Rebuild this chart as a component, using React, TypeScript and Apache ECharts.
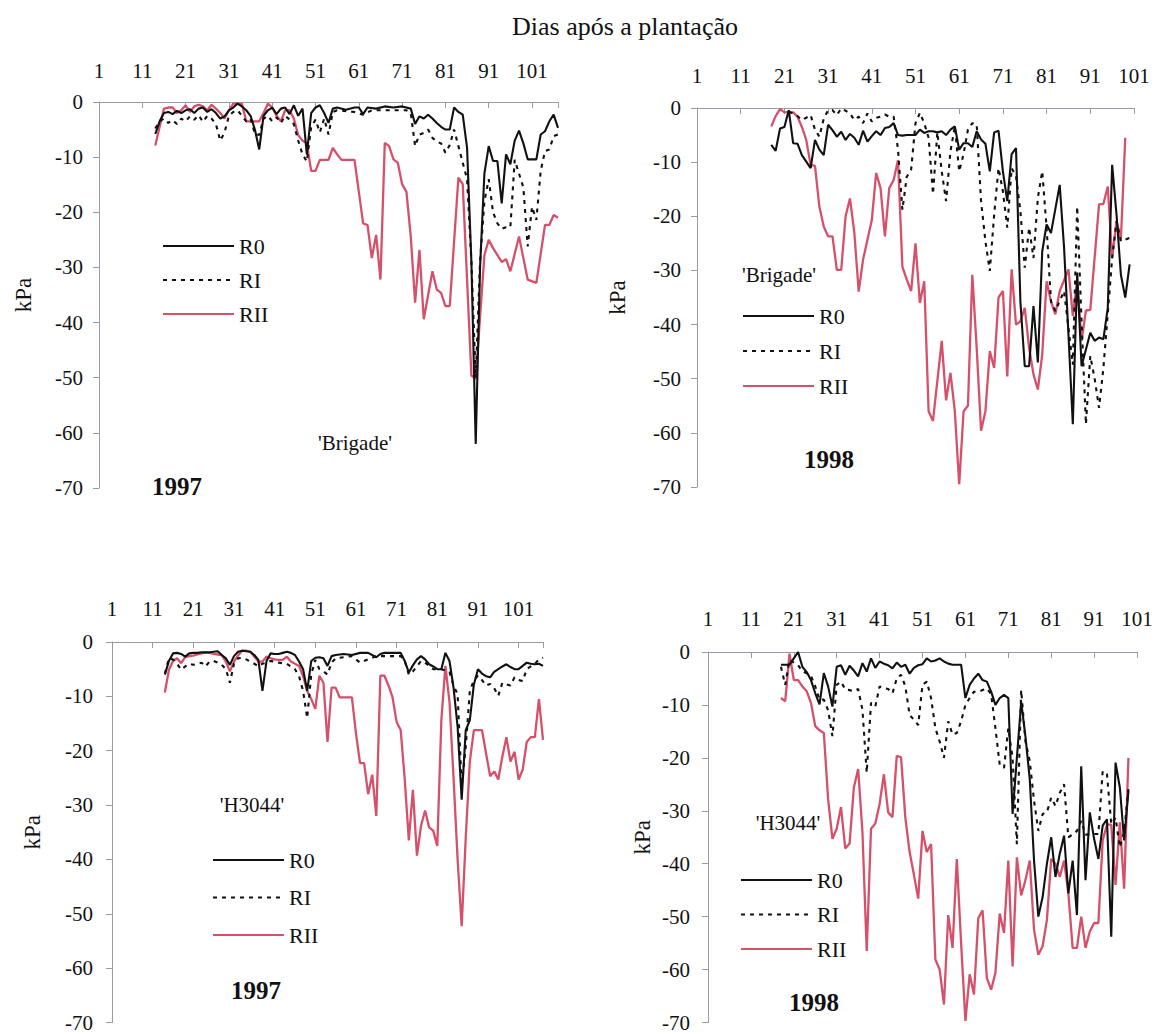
import React, { useEffect, useRef } from 'react';
import * as echarts from 'echarts';

const FONT = 'Liberation Serif';
const TITLE = 'Dias após a plantação';
const SERIES_NAMES = ['R0', 'RI', 'RII'];
const Y_MIN = -70;
const Y_MAX = 0;
const Y_STEP = 10;
const X_MIN = 1;
const X_STEP = 10;
const X_MAX_1997 = 107;
const X_MAX_1998 = 101;
const CULTIVARS = ["'Brigade'", "'Brigade'", "'H3044'", "'H3044'"];
const YEARS = ['1997', '1998', '1997', '1998'];

// 'Brigade' 1997
const b97R0 = [[14,-5.8],[15,-3.5],[16,-2.0],[17,-1.8],[18,-2.2],[19,-1.6],[20,-2.0],[21,-1.5],[22,-1.3],[23,-2.0],[24,-1.2],[25,-1.0],[26,-1.8],[27,-1.3],[28,-2.0],[29,-3.0],[30,-2.6],[31,-1.5],[32,-1.0],[33,-0.3],[34,-0.8],[35,-1.5],[36,-2.5],[37,-5.0],[38,-8.6],[39,-2.5],[40,-1.5],[41,-1.0],[42,-2.2],[43,-1.2],[44,-1.0],[45,-2.2],[46,-0.6],[47,-2.5],[48,-1.2],[49,-9.5],[50,-2.0],[51,-1.0],[52,-0.6],[53,-2.0],[54,-3.8],[55,-1.2],[56,-1.0],[58,-1.4],[60,-1.0],[61,-1.0],[62,-2.2],[63,-1.0],[65,-1.2],[67,-0.8],[69,-1.0],[71,-0.8],[73,-1.2],[74,-4.0],[75,-2.6],[76,-3.0],[77,-2.3],[78,-3.0],[79,-3.8],[80,-4.5],[81,-5.0],[82,-5.0],[83,-1.0],[84,-1.8],[85,-2.3],[86,-8.3],[87,-29],[88,-62],[89,-30],[90,-13],[91,-8.0],[92,-10.7],[93,-10.7],[94,-18.4],[95,-9.5],[96,-11.3],[97,-7.0],[98,-5.2],[99,-7.5],[100,-10.4],[101,-10.4],[102,-10.4],[103,-5.9],[104,-5.3],[105,-3.5],[106,-2.3],[107,-4.7]];
const b97RI = [[14,-4.8],[15,-3.5],[16,-3.0],[17,-3.8],[18,-3.3],[19,-4.0],[20,-3.0],[21,-3.5],[22,-2.6],[23,-3.2],[24,-2.4],[25,-3.6],[26,-2.5],[27,-3.0],[28,-4.0],[29,-7.0],[30,-5.5],[31,-2.5],[32,-1.8],[33,-1.5],[34,-2.5],[35,-3.5],[36,-3.0],[37,-5.8],[38,-6.0],[39,-3.0],[40,-2.5],[41,-3.5],[42,-2.8],[43,-3.8],[44,-2.5],[45,-3.2],[46,-4.0],[47,-7.0],[48,-9.5],[49,-10.8],[50,-4.5],[51,-3.2],[52,-5.5],[53,-3.0],[54,-5.9],[55,-1.8],[56,-1.5],[60,-1.8],[62,-2.3],[64,-1.5],[68,-1.5],[72,-1.5],[73,-2.0],[74,-8.0],[75,-5.9],[76,-5.6],[77,-5.0],[78,-6.5],[79,-7.2],[80,-7.5],[81,-9.2],[82,-7.8],[83,-5.0],[84,-8.0],[85,-11],[86,-14],[87,-29],[88,-50],[89,-29],[90,-18],[91,-14],[92,-20],[93,-22],[94,-23],[95,-22.7],[96,-22.7],[97,-10.5],[98,-13],[99,-15.5],[100,-26.2],[101,-19],[102,-21.4],[103,-12.5],[104,-8.9],[105,-8.6],[106,-6.2],[107,-5.9]];
const b97RII = [[14,-7.9],[15,-4.5],[16,-1.2],[17,-1.0],[18,-1.0],[19,-2.0],[20,-1.5],[21,-0.6],[22,-1.8],[23,-0.8],[24,-0.5],[25,-0.8],[26,-1.5],[27,-0.5],[28,-1.2],[29,-2.0],[30,-3.0],[31,-1.5],[32,-0.3],[33,-0.3],[34,-0.3],[35,-3.5],[36,-3.5],[37,-3.5],[38,-3.5],[39,-2.0],[40,-0.3],[41,-1.0],[42,-2.5],[43,-3.5],[44,-1.5],[45,-1.5],[46,-3.0],[47,-6.0],[48,-7.0],[49,-7.5],[50,-12.5],[51,-12.5],[52,-10.5],[53,-10.5],[54,-10.5],[55,-8.3],[56,-9.5],[57,-10.5],[60,-10.5],[62,-22],[63,-22.3],[64,-28.3],[65,-24.1],[66,-32.2],[67,-7.4],[68,-8.0],[69,-10.4],[70,-11],[71,-14.9],[72,-16.3],[73,-24.4],[74,-36.4],[75,-26.8],[76,-39.4],[78,-30.7],[79,-34],[80,-34.6],[81,-37],[82,-37],[84,-13.7],[85,-14.9],[87,-49.6],[88,-50.2],[90,-27.8],[91,-25],[92,-26.5],[94,-29],[95,-28.5],[96,-30.7],[98,-24.4],[100,-32.2],[102,-32.8],[104,-22.3],[105,-22.3],[106,-20.5],[107,-21]];

// 'Brigade' 1998
const b98R0 = [[18,-6.8],[19,-7.9],[20,-3.8],[21,-3.5],[22,-0.4],[23,-6.5],[24,-6.6],[25,-8.7],[27,-11.1],[28,-5.9],[29,-7.7],[30,-8.7],[31,-3.1],[32,-4.1],[33,-5.3],[34,-4.4],[35,-5.9],[36,-4.8],[37,-5.5],[38,-6.8],[39,-4.2],[40,-6.2],[41,-5.2],[42,-4.3],[43,-5.0],[44,-3.7],[45,-3.5],[46,-2.8],[47,-5.0],[48,-5.1],[49,-5.0],[50,-5.0],[51,-5.0],[52,-4.0],[53,-4.6],[54,-4.3],[55,-4.3],[56,-4.5],[57,-4.3],[58,-5.0],[59,-4.0],[60,-3.4],[61,-7.7],[62,-6.5],[63,-6.5],[64,-7.2],[65,-4.3],[66,-5.8],[67,-6.6],[68,-11.7],[69,-4.5],[70,-4.2],[71,-11.7],[72,-17.2],[73,-8.5],[74,-7.4],[75,-35.7],[76,-47.7],[77,-47.7],[78,-36.6],[79,-47],[80,-26.5],[81,-21.5],[82,-23.1],[84,-14.2],[85,-25.8],[86,-41.8],[87,-58.4],[88,-30.4],[89,-47.7],[91,-41.5],[92,-43],[93,-42.4],[94,-42.7],[95,-36.9],[96,-10.5],[97,-19.7],[98,-30.8],[99,-35],[100,-28.9]];
const b98RI = [[22,-0.7],[23,-1.0],[24,-1.5],[25,-2.2],[26,-1.8],[27,-1.3],[28,-4.0],[29,-5.3],[30,-2.0],[31,-0.4],[32,-0.4],[33,-1.3],[34,-0.1],[35,-0.5],[36,-1.0],[37,-2.2],[38,-1.6],[39,-2.8],[40,-1.0],[41,-2.5],[42,-1.8],[43,-1.6],[44,-1.2],[45,-1.6],[46,-1.6],[47,-7.7],[48,-18.8],[49,-12.7],[50,-11.4],[51,-2.8],[52,-0.9],[53,-2.8],[54,-5.5],[55,-15.9],[56,-4.5],[57,-11.7],[58,-17.2],[59,-8.0],[60,-3.4],[61,-11.7],[62,-8.5],[63,-4.0],[64,-2.8],[65,-3.0],[66,-17.2],[67,-24.6],[68,-30.1],[69,-19.7],[70,-11.1],[71,-15.4],[72,-22.1],[73,-11.1],[74,-12.6],[75,-19],[76,-29.5],[77,-22.1],[78,-27.7],[79,-16.6],[80,-11.7],[81,-22.1],[82,-35.7],[83,-37.5],[85,-33.8],[86,-40.6],[87,-47.4],[88,-18.2],[89,-39.4],[90,-58.4],[91,-45.8],[92,-50],[93,-55.4],[94,-48],[95,-38],[96,-27.7],[97,-20.9],[98,-24.6],[99,-24.3],[100,-24]];
const b98RII = [[18,-3.4],[19,-1.5],[20,-0.2],[21,-0.8],[22,-0.7],[23,-0.8],[24,-1.6],[25,-3.5],[26,-5.9],[27,-10.5],[28,-10.7],[29,-18.2],[30,-21.9],[31,-23.7],[32,-23.7],[33,-29.9],[34,-29.9],[35,-20],[36,-16.7],[37,-23],[38,-33.9],[39,-28],[41,-20.7],[42,-12],[43,-14.8],[44,-23.7],[45,-14.8],[46,-13.3],[47,-9.6],[48,-29.3],[49,-31.7],[50,-33.8],[51,-25],[52,-36],[53,-32],[54,-56],[55,-57.8],[57,-43],[58,-54],[59,-48.9],[60,-56],[61,-69.5],[62,-56],[63,-55],[64,-30.8],[65,-44.3],[66,-59.6],[67,-56],[68,-44.9],[69,-48],[70,-35],[71,-33.8],[72,-49.6],[73,-29.8],[74,-40],[75,-39.4],[76,-36.9],[77,-44.3],[78,-49.2],[79,-52],[80,-45.5],[81,-32],[82,-35.7],[83,-38.1],[84,-33.8],[86,-29.8],[87,-38.4],[88,-32],[89,-43],[90,-37.4],[91,-37.3],[93,-17.8],[94,-17.7],[95,-14.5],[96,-27.7],[97,-20.9],[98,-24.3],[99,-5.5]];

// 'H3044' 1997
const h97R0 = [[14,-6.0],[15,-3.5],[16,-2.1],[17,-2.0],[18,-2.2],[19,-2.7],[20,-2.1],[21,-2.0],[22,-2.0],[23,-1.9],[24,-1.9],[25,-1.9],[26,-1.8],[27,-1.7],[28,-2.4],[29,-3.0],[30,-4.2],[31,-2.6],[32,-1.8],[33,-1.6],[34,-1.7],[35,-1.8],[36,-2.4],[37,-3.3],[38,-9.0],[39,-3.5],[40,-2.1],[41,-2.2],[42,-2.2],[43,-2.0],[44,-1.8],[45,-2.0],[46,-2.4],[47,-3.6],[48,-5.0],[49,-9.0],[50,-3.5],[51,-2.9],[52,-2.8],[53,-3.0],[54,-4.4],[55,-2.6],[56,-2.4],[58,-2.2],[60,-2.4],[62,-2.0],[64,-2.0],[66,-2.8],[67,-2.2],[68,-2.0],[72,-2.0],[73,-3.5],[74,-5.6],[75,-4.3],[76,-3.2],[77,-2.6],[78,-3.2],[79,-4.1],[80,-4.5],[81,-5.0],[82,-5.0],[83,-2.0],[84,-3.5],[85,-8.4],[86,-15.6],[87,-29],[88,-16.2],[89,-14.4],[90,-7.8],[91,-5.0],[92,-5.8],[93,-6.3],[94,-6.5],[95,-5.5],[96,-5.0],[97,-4.5],[98,-4.1],[99,-4.6],[100,-5.0],[101,-5.0],[102,-4.4],[103,-3.8],[104,-4.0],[105,-4.1],[106,-4.0],[107,-4.4]];
const h97RI = [[14,-5.8],[15,-3.0],[16,-3.2],[17,-4.0],[18,-5.1],[19,-4.5],[20,-4.0],[21,-4.2],[22,-4.0],[23,-3.8],[24,-4.5],[25,-3.6],[26,-3.5],[27,-3.8],[28,-4.2],[29,-5.0],[30,-7.5],[31,-4.0],[32,-3.0],[33,-2.9],[34,-3.2],[35,-3.6],[36,-4.0],[37,-4.5],[38,-4.0],[39,-3.8],[40,-3.5],[41,-3.6],[42,-3.8],[43,-3.9],[44,-4.0],[45,-4.5],[46,-5.0],[47,-6.3],[48,-9.0],[49,-14],[50,-6.0],[51,-3.3],[52,-5.0],[53,-5.4],[54,-6.0],[55,-3.8],[56,-3.0],[58,-2.8],[60,-2.6],[62,-3.8],[64,-3.2],[66,-2.6],[72,-2.6],[73,-3.5],[74,-6.0],[75,-5.4],[76,-4.5],[77,-3.5],[78,-3.8],[80,-5.0],[82,-5.0],[84,-5.5],[85,-8.0],[86,-9.6],[87,-26.5],[88,-19.3],[89,-9.0],[90,-7.0],[91,-6.2],[92,-7.0],[93,-8.0],[94,-7.7],[95,-8.5],[96,-9.9],[97,-7.5],[98,-7.8],[99,-8.0],[100,-6.5],[101,-7.0],[102,-7.2],[103,-5.0],[104,-4.5],[105,-4.0],[106,-3.2],[107,-2.9]];
const h97RII = [[14,-9.3],[15,-5.1],[16,-3.5],[17,-3.0],[18,-3.9],[19,-2.8],[20,-2.6],[21,-2.5],[22,-2.3],[23,-2.1],[24,-1.9],[25,-2.0],[26,-2.2],[27,-2.3],[28,-2.4],[29,-3.6],[30,-5.4],[31,-3.6],[32,-2.5],[33,-1.6],[34,-1.6],[35,-1.8],[36,-2.7],[37,-3.6],[38,-3.6],[39,-2.7],[40,-3.0],[41,-3.2],[42,-3.3],[43,-3.3],[44,-2.7],[45,-3.6],[46,-4.0],[47,-4.4],[48,-6.3],[49,-9.0],[50,-10.5],[51,-12.3],[52,-6.2],[53,-7.5],[54,-18.4],[55,-8.4],[56,-8.4],[57,-10.2],[60,-10.2],[61,-16.8],[62,-22.3],[63,-22.3],[64,-28],[65,-24.4],[66,-32],[67,-6.2],[68,-6.2],[69,-8.0],[70,-10.2],[71,-14.7],[72,-16.2],[73,-25.3],[74,-36.5],[75,-27.2],[76,-39.3],[77,-33.8],[78,-31],[79,-34.1],[80,-34.7],[81,-37.5],[82,-14.4],[83,-4.4],[84,-11],[85,-25],[86,-40],[87,-52.3],[88,-36],[89,-22],[90,-16.2],[92,-16.2],[93,-20.5],[94,-24.7],[95,-23.8],[96,-25.3],[97,-21.1],[98,-17.5],[99,-22],[100,-20.2],[101,-25.3],[102,-23.5],[103,-18.4],[104,-17.5],[105,-17.5],[106,-10.5],[107,-18]];

// 'H3044' 1998
const h98R0 = [[18,-2.4],[20,-2.4],[21,-1.2],[22,0],[23,-2.8],[24,-3.8],[25,-5.3],[26,-7.8],[27,-9.9],[28,-4.0],[29,-6.5],[30,-10.3],[31,-2.8],[32,-2.5],[33,-4.3],[34,-2.6],[35,-3.5],[36,-4.6],[37,-2.1],[38,-3.7],[39,-1.2],[40,-3.0],[41,-1.8],[42,-2.2],[43,-2.5],[44,-3.1],[45,-2.0],[46,-2.8],[47,-2.4],[48,-4.1],[49,-3.0],[50,-2.5],[51,-2.3],[52,-1.2],[53,-1.8],[54,-1.6],[55,-1.2],[56,-1.8],[57,-2.2],[58,-2.4],[60,-2.4],[61,-8.7],[62,-6.2],[63,-5.0],[64,-4.1],[65,-5.3],[66,-5.6],[67,-7.5],[68,-10],[69,-8.7],[70,-8.1],[71,-8.7],[72,-30.6],[73,-20],[74,-9.4],[75,-16],[76,-24],[77,-39.4],[78,-50],[79,-46.3],[80,-40],[81,-35],[82,-42.5],[83,-38.1],[84,-34.7],[85,-45.6],[86,-39.4],[87,-49.7],[88,-21.6],[89,-43.1],[90,-30.3],[91,-35.3],[92,-39.1],[93,-32.8],[94,-31.6],[95,-53.8],[96,-20.9],[97,-25.6],[98,-35.6],[99,-26.3]];
const h98RI = [[18,-2.8],[19,-6.2],[20,-1.5],[21,-2.0],[22,-2.5],[23,-3.7],[24,-4.0],[25,-4.5],[26,-6.5],[27,-9.0],[28,-9.0],[29,-11],[30,-15.9],[31,-6.2],[32,-5.6],[33,-7.1],[34,-7.2],[35,-7.4],[36,-7.0],[37,-10.9],[38,-22.8],[39,-9.6],[40,-10.3],[41,-6.5],[42,-6.8],[43,-7.0],[44,-7.8],[45,-5.0],[46,-4.3],[47,-6.5],[48,-11.9],[49,-12.8],[50,-13.8],[51,-6.2],[52,-5.6],[53,-8.7],[54,-14.4],[55,-16.9],[56,-20],[57,-13.1],[58,-15.6],[59,-15.3],[60,-13.1],[61,-10],[62,-8.7],[63,-7.5],[64,-7.5],[65,-7.2],[66,-6.9],[67,-8.0],[68,-14.4],[69,-21.3],[70,-21.9],[71,-14.4],[72,-20],[73,-36.3],[74,-7.2],[75,-16.9],[76,-20.6],[77,-28.1],[78,-33.8],[79,-30.6],[80,-30.3],[81,-27.5],[82,-29.1],[83,-26.6],[84,-25],[85,-35],[86,-34.5],[87,-33.8],[88,-31.9],[89,-34.5],[91,-34.4],[92,-34.4],[93,-22.5],[94,-23.1],[95,-32.5],[96,-31.3],[97,-36.9],[98,-34],[99,-25.9]];
const h98RII = [[18,-8.7],[19,-9.3],[20,-0.3],[21,-5.3],[22,-5.3],[23,-6.5],[24,-7.4],[25,-9.6],[26,-14],[27,-14.8],[28,-15.3],[29,-27.8],[30,-35.3],[31,-33.4],[32,-29.3],[33,-37.1],[34,-36.2],[35,-25.6],[36,-22.1],[37,-34],[38,-56.5],[39,-33.4],[40,-32.4],[41,-28.7],[42,-23.1],[43,-30.3],[44,-31.2],[45,-19.6],[46,-19.9],[47,-31.3],[48,-37.8],[49,-42.1],[50,-46.6],[51,-33.8],[52,-37.8],[53,-36.3],[54,-58.1],[55,-60],[56,-66.6],[57,-49.7],[58,-55.9],[59,-39.1],[60,-55],[61,-69.7],[62,-60.9],[63,-64.7],[64,-50.3],[65,-48.8],[66,-61.6],[67,-63.8],[68,-60.6],[69,-49.4],[70,-53.1],[71,-39.4],[72,-59.4],[73,-38.8],[74,-46],[75,-43.1],[76,-39.4],[77,-52.5],[78,-57.2],[79,-55.6],[80,-50.6],[81,-39.1],[82,-40],[83,-42.5],[84,-39.4],[85,-45.6],[86,-55.9],[87,-55.9],[88,-50],[89,-55.9],[90,-52.8],[91,-51.2],[92,-51.2],[93,-35.6],[94,-32.6],[95,-32.6],[96,-44],[97,-32.2],[98,-44.7],[99,-20]];

const PANEL_DATA = [
  [b97R0, b97RI, b97RII],
  [b98R0, b98RI, b98RII],
  [h97R0, h97RI, h97RII],
  [h98R0, h98RI, h98RII],
];
const PANEL_XMAX = [X_MAX_1997, X_MAX_1998, X_MAX_1997, X_MAX_1998];

// Layout (pixels)
const LAYOUT = [
  { grid: { left: 99, top: 102, width: 459, height: 386 }, legend: { left: 162, top: 235, gap: 12 }, nameGap: 64, yMargin: 16, xMargin: 21, cult: [355, 443], year: [177, 486] },
  { grid: { left: 697, top: 108, width: 437, height: 379 }, legend: { left: 742, top: 305, gap: 13 }, nameGap: 68, yMargin: 16, xMargin: 22, cult: [779, 275], year: [829, 459] },
  { grid: { left: 112, top: 642, width: 431, height: 385 }, legend: { left: 212, top: 849, gap: 15.5 }, nameGap: 68, yMargin: 19, xMargin: 23, cult: [252, 805], year: [256, 990] },
  { grid: { left: 708, top: 652, width: 429, height: 374 }, legend: { left: 740, top: 869, gap: 12.5 }, nameGap: 54, yMargin: 18, xMargin: 23, cult: [788, 823], year: [814, 1002] },
];

const COLORS = { R0: '#111111', RI: '#111111', RII: '#d6506a' };
const AXIS_COLOR = '#9a9aa6';

export default function App() {
  const ref = useRef<HTMLDivElement>(null);
  useEffect(() => {
    document.body.style.margin = '0';
    const chart = echarts.init(ref.current!, null, { renderer: 'svg' });

    const grids = LAYOUT.map((l) => ({ ...l.grid, containLabel: false }));
    const xAxes = LAYOUT.map((l, i) => ({
      type: 'value',
      gridIndex: i,
      position: 'top',
      min: X_MIN,
      max: PANEL_XMAX[i],
      interval: X_STEP,
      axisLine: { show: true, onZero: false, lineStyle: { color: AXIS_COLOR, width: 1 } },
      axisTick: { show: true, inside: true, length: 6, lineStyle: { color: AXIS_COLOR } },
      splitLine: { show: false },
      axisLabel: {
        show: true,
        margin: l.xMargin,
        fontSize: 21,
        fontFamily: FONT,
        color: '#111',
        showMaxLabel: true,
        formatter: (v: number) => ((v - X_MIN) % X_STEP === 0 ? String(v) : ''),
      },
    }));
    const yAxes = LAYOUT.map((l, i) => ({
      type: 'value',
      gridIndex: i,
      min: Y_MIN,
      max: Y_MAX,
      interval: Y_STEP,
      name: 'kPa',
      nameLocation: 'middle',
      nameRotate: 90,
      nameGap: l.nameGap,
      nameTextStyle: { fontSize: 23, fontFamily: FONT, color: '#111' },
      axisLine: { show: true, onZero: false, lineStyle: { color: AXIS_COLOR, width: 1 } },
      axisTick: { show: true, inside: false, length: 6, lineStyle: { color: AXIS_COLOR } },
      splitLine: { show: false },
      axisLabel: { margin: l.yMargin, fontSize: 21, fontFamily: FONT, color: '#111' },
    }));

    const series: any[] = [];
    PANEL_DATA.forEach((sets, i) => {
      [2, 1, 0].forEach((k) => {
        const name = SERIES_NAMES[k];
        series.push({
          type: 'line',
          name,
          xAxisIndex: i,
          yAxisIndex: i,
          data: sets[k],
          symbol: 'none',
          showSymbol: false,
          smooth: false,
          lineStyle: {
            color: (COLORS as any)[name],
            width: name === 'RII' ? 2.3 : 2.1,
            type: name === 'RI' ? [4, 5] : 'solid',
          },
          itemStyle: { color: (COLORS as any)[name] },
          emphasis: { disabled: true },
        });
      });
    });

    const legends = LAYOUT.map((l) => ({
      orient: 'vertical',
      left: l.legend.left,
      top: l.legend.top,
      itemGap: l.legend.gap,
      itemWidth: 71,
      itemHeight: 14,
      padding: 0,
      selectedMode: false,
      data: SERIES_NAMES,
      itemStyle: { opacity: 0 },
      textStyle: { fontSize: 22, fontFamily: FONT, color: '#111', lineHeight: 22 },
    }));

    const graphics: any[] = [];
    LAYOUT.forEach((l, i) => {
      graphics.push({
        type: 'text',
        x: l.cult[0],
        y: l.cult[1],
        style: { text: CULTIVARS[i], fontSize: 21, fontFamily: FONT, fill: '#111', align: 'center', verticalAlign: 'middle' },
      });
      graphics.push({
        type: 'text',
        x: l.year[0],
        y: l.year[1],
        style: { text: YEARS[i], fontSize: 25, fontWeight: 'bold', fontFamily: FONT, fill: '#111', align: 'center', verticalAlign: 'middle' },
      });
    });

    chart.setOption({
      animation: false,
      backgroundColor: '#ffffff',
      textStyle: { fontFamily: FONT },
      title: {
        text: TITLE,
        left: 512,
        top: 13,
        padding: 0,
        textStyle: { fontSize: 26, fontWeight: 'normal', fontFamily: FONT, color: '#111' },
      },
      grid: grids,
      xAxis: xAxes,
      yAxis: yAxes,
      legend: legends,
      series,
      graphic: graphics,
      tooltip: { show: false },
    });
    return () => chart.dispose();
  }, []);
  return <div ref={ref} style={{ width: 1156, height: 1033 }} />;
}
